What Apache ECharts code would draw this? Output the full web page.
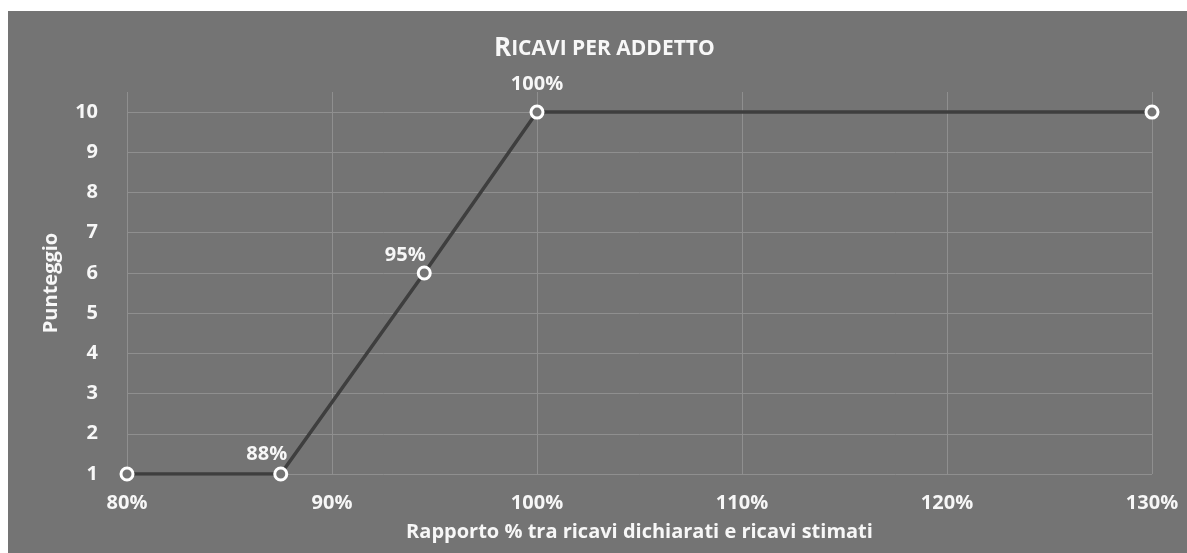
<!DOCTYPE html>
<html>
<head>
<meta charset="utf-8">
<script src="https://cdn.jsdelivr.net/npm/echarts@6/dist/echarts.min.js"></script>
<style>
  html, body { margin: 0; padding: 0; background: #ffffff; }
  #chart { position: absolute; left: 8px; top: 11px; width: 1179px; height: 542px; }
</style>
</head>
<body>
<div id="chart"></div>
<script>
// rapporto % ricavi dichiarati / stimati
const ratios = [80, 87.5, 94.5, 100, 130];
const scores = [1, 1, 6, 10, 10];
// which points carry a data label
const labelled = [false, true, true, true, false];

const xTicks = { min: 80, max: 130, step: 10 };
const yTicks = { min: 1, max: 10.5, step: 1 };

const FONT = "Open Sans";
const TEXT = "#f7f7f7";
const GRID = "#8f8f8f";

// label offsets next to the markers (Excel-like placement)
const labelOffsets = [[0, 0], [-14, 3], [-19, 5], [0, -5], [0, 0]];

const seriesData = ratios.map((x, i) => ({
  value: [x, scores[i]],
  label: {
    show: labelled[i],
    offset: labelOffsets[i],
  },
}));

const chart = echarts.init(document.getElementById("chart"));

chart.setOption({
  backgroundColor: "#747474",
  animation: false,
  title: {
    text: "{a|R}{b|ICAVI PER ADDETTO}",
    left: 486,
    top: 25,
    padding: 0,
    textStyle: {
      rich: {
        a: { fontFamily: FONT, fontWeight: "bold", fontSize: 26, color: TEXT },
        b: { fontFamily: FONT, fontWeight: "bold", fontSize: 21, color: TEXT },
      },
    },
  },
  grid: { left: 119, right: 35, top: 81, bottom: 79 },
  xAxis: {
    type: "value",
    min: xTicks.min,
    max: xTicks.max,
    interval: xTicks.step,
    name: "Rapporto % tra ricavi dichiarati e ricavi stimati",
    nameLocation: "middle",
    nameGap: 48,
    nameTextStyle: { fontFamily: FONT, fontWeight: "bold", fontSize: 20, color: TEXT },
    axisLine: { show: false },
    axisTick: { show: false },
    axisLabel: {
      formatter: "{value}%",
      margin: 19,
      fontFamily: FONT,
      fontWeight: "bold",
      fontSize: 20,
      color: TEXT,
    },
    splitLine: { show: true, lineStyle: { color: GRID, width: 1 } },
  },
  yAxis: {
    type: "value",
    min: yTicks.min,
    max: yTicks.max,
    interval: yTicks.step,
    name: "Punteggio",
    nameLocation: "middle",
    nameGap: 66,
    nameRotate: 90,
    nameTextStyle: { fontFamily: FONT, fontWeight: "bold", fontSize: 20, color: TEXT },
    axisLine: { show: false },
    axisTick: { show: false },
    axisLabel: {
      showMaxLabel: false,
      margin: 29,
      fontFamily: FONT,
      fontWeight: "bold",
      fontSize: 20,
      color: TEXT,
    },
    splitLine: { show: true, showMaxLine: false, lineStyle: { color: GRID, width: 1 } },
  },
  series: [
    {
      type: "line",
      data: seriesData,
      symbol: "circle",
      symbolSize: 12,
      lineStyle: { color: "#3e3e3e", width: 3.5 },
      itemStyle: { color: "#747474", borderColor: "#ffffff", borderWidth: 3 },
      label: {
        position: "top",
        distance: 5,
        formatter: (p) => Math.round(p.value[0]) + "%",
        fontFamily: FONT,
        fontWeight: "bold",
        fontSize: 20,
        color: TEXT,
      },
    },
  ],
});
</script>
</body>
</html>
